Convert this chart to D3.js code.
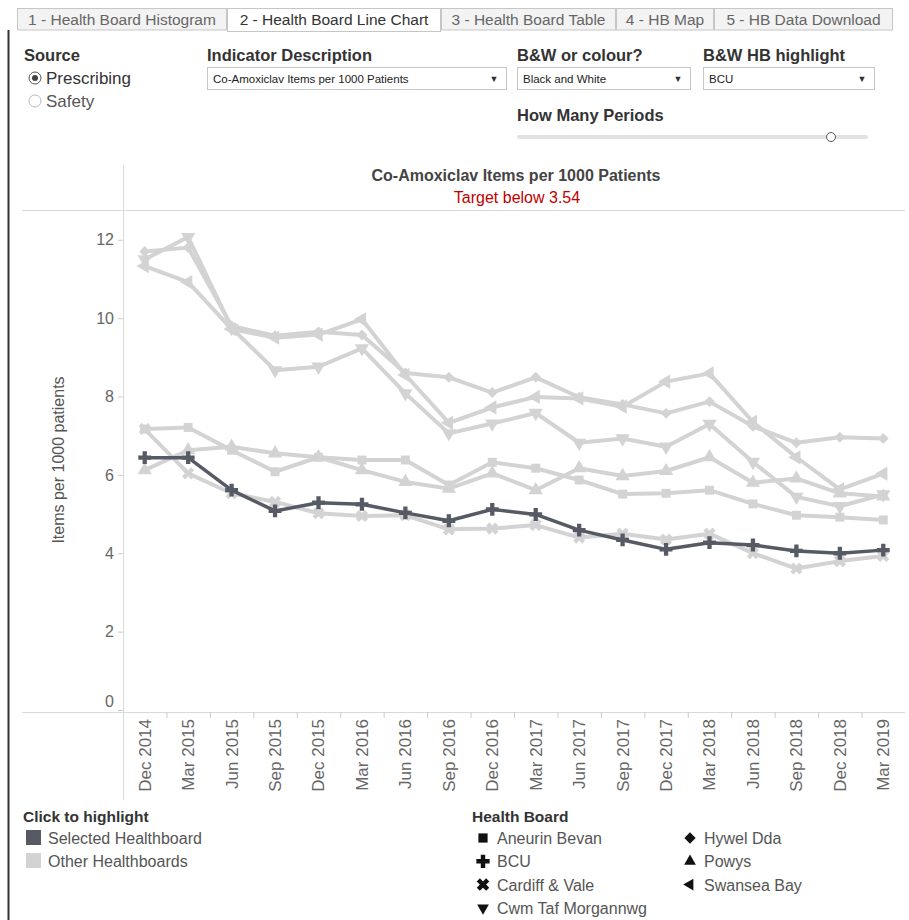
<!DOCTYPE html>
<html>
<head>
<meta charset="utf-8">
<script src="https://cdn.jsdelivr.net/npm/d3@7"></script>
<style>
  body { margin: 0; background: #fff; }
  svg { display: block; font-family: "Liberation Sans", Arial, sans-serif; }
</style>
</head>
<body>
<svg id="chart" width="909" height="920"></svg>
<script>
// --- data ---
const periods = ["Dec 2014", "Mar 2015", "Jun 2015", "Sep 2015", "Dec 2015", "Mar 2016",
  "Jun 2016", "Sep 2016", "Dec 2016", "Mar 2017", "Jun 2017", "Sep 2017",
  "Dec 2017", "Mar 2018", "Jun 2018", "Sep 2018", "Dec 2018", "Mar 2019"];

const aneurinBevan = [7.17, 7.21, 6.63, 6.08, 6.45, 6.38, 6.38, 5.74, 6.32, 6.17, 5.87, 5.51, 5.53, 5.61, 5.26, 4.97, 4.92, 4.85];
const bcu = [6.44, 6.44, 5.61, 5.08, 5.29, 5.25, 5.03, 4.83, 5.12, 4.99, 4.59, 4.34, 4.1, 4.27, 4.21, 4.06, 4.0, 4.08];
const cardiffVale = [7.17, 6.04, 5.53, 5.31, 5.02, 4.95, 4.97, 4.61, 4.63, 4.72, 4.4, 4.5, 4.35, 4.5, 4.0, 3.61, 3.8, 3.93];
const cwmTaf = [11.5, 12.07, 9.75, 8.67, 8.76, 9.23, 8.08, 7.06, 7.31, 7.58, 6.82, 6.93, 6.72, 7.3, 6.33, 5.44, 5.2, 5.5];
const hywelDda = [11.7, 11.8, 9.8, 9.55, 9.65, 9.57, 8.6, 8.49, 8.1, 8.49, 7.98, 7.8, 7.57, 7.87, 7.24, 6.82, 6.96, 6.93];
const powys = [6.12, 6.63, 6.72, 6.55, 6.45, 6.12, 5.82, 5.65, 6.04, 5.61, 6.17, 5.97, 6.1, 6.45, 5.8, 5.91, 5.53, 5.45];
const swanseaBay = [11.33, 10.92, 9.72, 9.5, 9.58, 9.97, 8.55, 7.33, 7.72, 7.99, 7.95, 7.74, 8.38, 8.59, 7.35, 6.45, 5.63, 6.03];

const yTicks = [0, 2, 4, 6, 8, 10, 12];
const tabLabels = ["1 - Health Board Histogram", "2 - Health Board Line Chart", "3 - Health Board Table", "4 - HB Map", "5 - HB Data Download"];

const boards = [
  { name: "Aneurin Bevan", values: aneurinBevan, shape: "square" },
  { name: "BCU", values: bcu, shape: "plus" },
  { name: "Cardiff & Vale", values: cardiffVale, shape: "x" },
  { name: "Cwm Taf Morgannwg", values: cwmTaf, shape: "down" },
  { name: "Hywel Dda", values: hywelDda, shape: "diamond" },
  { name: "Powys", values: powys, shape: "up" },
  { name: "Swansea Bay", values: swanseaBay, shape: "left" },
];
const selected = "BCU";

const dark = "#555a64";
const light = "#d3d3d3";

const svg = d3.select("#chart");

// symbols (diamond = rotated square, x = rotated cross)
function symbolPath(shape, size) {
  const map = { square: d3.symbolSquare, plus: d3.symbolCross, x: d3.symbolCross,
    down: d3.symbolTriangle, up: d3.symbolTriangle, left: d3.symbolTriangle, diamond: d3.symbolSquare };
  return d3.symbol().type(map[shape]).size(size)();
}
function symbolRotate(shape) {
  return { x: 45, diamond: 45, down: 180, left: -90 }[shape] || 0;
}
function symbolSize(shape, base, tri) {
  if (shape === "plus" || shape === "x") return base * 1.15;
  if (shape === "diamond") return base * 0.75;
  if (shape === "up" || shape === "down" || shape === "left") return base * tri;
  return base;
}

// --- tabs ---
const tabX = [17, 227, 441, 616, 714, 893];
tabLabels.forEach((t, i) => {
  const active = i === 1;
  const g = svg.append("g");
  g.append("rect")
    .attr("x", tabX[i] + 0.5).attr("y", 8.5)
    .attr("width", tabX[i + 1] - tabX[i] - 1).attr("height", active ? 23 : 21.5)
    .attr("fill", active ? "#fff" : "#f3f3f3")
    .attr("stroke", "#c6c6c6");
  g.append("text")
    .attr("x", (tabX[i] + tabX[i + 1]) / 2).attr("y", 25)
    .attr("text-anchor", "middle")
    .attr("font-size", 15.5)
    .attr("fill", active ? "#333" : "#666")
    .text(t);
});
svg.append("line").attr("x1", 8.5).attr("x2", 8.5).attr("y1", 30).attr("y2", 920)
  .attr("stroke", "#333").attr("stroke-width", 2);

// --- controls ---
function heading(x, y, t) {
  svg.append("text").attr("x", x).attr("y", y).attr("font-size", 16.5)
    .attr("font-weight", "bold").attr("fill", "#333").text(t);
}
heading(24, 61, "Source");
heading(207, 61, "Indicator Description");
heading(517, 61, "B&W or colour?");
heading(703, 61, "B&W HB highlight");
heading(517, 121, "How Many Periods");

[["Prescribing", true, 78], ["Safety", false, 101]].forEach(([t, on, y]) => {
  svg.append("circle").attr("cx", 35).attr("cy", y).attr("r", 6)
    .attr("fill", "#fff").attr("stroke", on ? "#555" : "#bbb");
  if (on) svg.append("circle").attr("cx", 35).attr("cy", y).attr("r", 3).attr("fill", "#444");
  svg.append("text").attr("x", 46).attr("y", y + 6).attr("font-size", 17)
    .attr("fill", on ? "#333" : "#555").text(t);
});

function dropdown(x, w, t) {
  svg.append("rect").attr("x", x + 0.5).attr("y", 67.5).attr("width", w).attr("height", 22)
    .attr("fill", "#fff").attr("stroke", "#c8c8c8");
  svg.append("text").attr("x", x + 6).attr("y", 82.5).attr("font-size", 11.5)
    .attr("fill", "#222").text(t);
  svg.append("text").attr("x", x + w - 12).attr("y", 82).attr("font-size", 9)
    .attr("text-anchor", "middle").attr("fill", "#333").text("\u25BC");
}
dropdown(207, 299, "Co-Amoxiclav Items per 1000 Patients");
dropdown(517, 173, "Black and White");
dropdown(703, 171, "BCU");

svg.append("line").attr("x1", 519).attr("x2", 866).attr("y1", 137).attr("y2", 137)
  .attr("stroke", "#e2e2e2").attr("stroke-width", 4).attr("stroke-linecap", "round");
svg.append("circle").attr("cx", 831).attr("cy", 137).attr("r", 4.5)
  .attr("fill", "#fff").attr("stroke", "#555");

// --- chart frame ---
const plotLeft = 123, plotRight = 905, plotTop = 210, plotBottom = 712;

svg.append("text").attr("x", 516).attr("y", 181).attr("text-anchor", "middle")
  .attr("font-size", 16).attr("font-weight", "bold").attr("fill", "#444")
  .text("Co-Amoxiclav Items per 1000 Patients");
svg.append("text").attr("x", 517).attr("y", 203).attr("text-anchor", "middle")
  .attr("font-size", 16).attr("fill", "#c00000").text("Target below 3.54");

svg.append("line").attr("x1", 22).attr("x2", plotRight).attr("y1", plotTop + 0.5).attr("y2", plotTop + 0.5)
  .attr("stroke", "#d9d9d9");
svg.append("line").attr("x1", 22).attr("x2", plotRight).attr("y1", plotBottom + 0.5).attr("y2", plotBottom + 0.5)
  .attr("stroke", "#d9d9d9");
svg.append("line").attr("x1", plotLeft + 0.5).attr("x2", plotLeft + 0.5).attr("y1", 165).attr("y2", 800)
  .attr("stroke", "#d9d9d9");

const x = d3.scaleBand().domain(periods).range([plotLeft, plotRight]);
const y = d3.scaleLinear().domain([0, 12.76]).range([710, plotTop]);

// y axis
const yAxis = svg.append("g").attr("transform", `translate(${plotLeft},0)`)
  .call(d3.axisLeft(y).tickValues(yTicks).tickSize(5).tickPadding(4));
yAxis.select(".domain").remove();
yAxis.selectAll(".tick line").attr("stroke", "#ccc");
yAxis.selectAll(".tick text").attr("font-size", 16).attr("fill", "#666")
  .attr("font-family", "Liberation Sans, Arial, sans-serif")
  .attr("dy", (d) => (d === 0 ? "-0.25em" : "0.32em"));

svg.append("text")
  .attr("transform", `translate(64,460) rotate(-90)`)
  .attr("text-anchor", "middle").attr("font-size", 16).attr("fill", "#555")
  .text("Items per 1000 patients");

// x axis
const xAxis = svg.append("g").attr("transform", `translate(0,${plotBottom})`)
  .call(d3.axisBottom(x).tickSize(0).tickPadding(0));
xAxis.select(".domain").remove();
xAxis.selectAll(".tick text")
  .attr("font-size", 17).attr("fill", "#666")
  .attr("font-family", "Liberation Sans, Arial, sans-serif")
  .attr("text-anchor", "end")
  .attr("transform", "rotate(-90)")
  .attr("x", -7).attr("y", 0).attr("dy", "0.35em");
svg.append("g").selectAll("line")
  .data(periods.slice(1))
  .join("line")
  .attr("x1", (d) => x(d) + 0.5).attr("x2", (d) => x(d) + 0.5)
  .attr("y1", plotBottom).attr("y2", plotBottom + 6)
  .attr("stroke", "#ccc");

// lines
const line = d3.line().x((d, i) => x(periods[i]) + x.bandwidth() / 2).y((d) => y(d));
const ordered = boards.filter((b) => b.name !== selected).concat(boards.filter((b) => b.name === selected));

const series = svg.append("g").selectAll("g").data(ordered).join("g");
series.append("path")
  .attr("d", (d) => line(d.values))
  .attr("fill", "none")
  .attr("stroke", (d) => (d.name === selected ? dark : light))
  .attr("stroke-width", (d) => (d.name === selected ? 3.5 : 4))
  .attr("stroke-linejoin", "round");
series.each(function (b) {
  d3.select(this).selectAll("path.mark")
    .data(b.values)
    .join("path")
    .attr("class", "mark")
    .attr("d", symbolPath(b.shape, symbolSize(b.shape, 80, 1.1)))
    .attr("transform", (d, i) =>
      `translate(${x(periods[i]) + x.bandwidth() / 2},${y(d)}) rotate(${symbolRotate(b.shape)})`)
    .attr("fill", b.name === selected ? dark : light);
});

// --- legends ---
svg.append("text").attr("x", 23).attr("y", 822).attr("font-size", 15.5)
  .attr("font-weight", "bold").attr("fill", "#333").text("Click to highlight");
[["Selected Healthboard", dark, 838], ["Other Healthboards", light, 861]].forEach(([t, c, yy]) => {
  svg.append("rect").attr("x", 26).attr("y", yy - 8).attr("width", 15).attr("height", 15).attr("fill", c);
  svg.append("text").attr("x", 48).attr("y", yy + 6).attr("font-size", 16).attr("fill", "#555").text(t);
});

svg.append("text").attr("x", 472).attr("y", 822).attr("font-size", 15.5)
  .attr("font-weight", "bold").attr("fill", "#333").text("Health Board");
boards.forEach((b, i) => {
  const col = i < 4 ? 0 : 1;
  const row = i < 4 ? i : i - 4;
  const lx = col === 0 ? 483 : 690;
  const ly = 838 + row * 23.3;
  svg.append("path")
    .attr("d", symbolPath(b.shape, symbolSize(b.shape, 85, 0.7)))
    .attr("transform", `translate(${lx},${ly}) rotate(${symbolRotate(b.shape)})`)
    .attr("fill", "#111");
  svg.append("text").attr("x", lx + 14).attr("y", ly + 6).attr("font-size", 16)
    .attr("fill", "#555").text(b.name);
});
</script>
</body>
</html>
